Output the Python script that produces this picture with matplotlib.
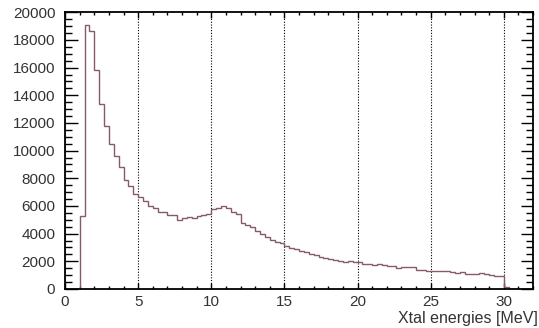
import numpy as np
import matplotlib
matplotlib.use("Agg")
import matplotlib.pyplot as plt
from matplotlib.ticker import MultipleLocator

# histogram: bins of 1/3 MeV from 0 to 32 MeV, contents
bin_lo = 0.0
bin_hi = 32.0
n_bins = 96
first_bin = 3  # first filled bin starts at 1.0 MeV
counts = [
    5300, 19100, 18650, 15800, 13350, 11800, 10450, 9600, 8800, 7900,
    7450, 6850, 6620, 6380, 6020, 5830, 5580, 5540, 5340, 5340,
    5000, 5100, 5220, 5150, 5290, 5340, 5400, 5780, 5870, 6020,
    5840, 5590, 5390, 4800, 4650, 4450, 4210, 3950, 3780, 3560,
    3400, 3300, 3080, 2960, 2870, 2760, 2640, 2530, 2450, 2330,
    2215, 2140, 2070, 2050, 1980, 2045, 1960, 1925, 1805, 1790,
    1730, 1805, 1740, 1650, 1630, 1515, 1565, 1610, 1600, 1400,
    1390, 1330, 1280, 1320, 1320, 1310, 1200, 1160, 1200, 1080,
    1080, 1080, 1130, 1080, 1010, 960, 960, 170,
]
xlabel = "Xtal energies [MeV]"

contents = np.zeros(n_bins)
contents[first_bin:first_bin + len(counts)] = counts
edges = np.linspace(bin_lo, bin_hi, n_bins + 1)

plt.rcParams["font.family"] = ["Liberation Sans", "DejaVu Sans"]

fig = plt.figure(figsize=(5.39, 3.28), dpi=100)
ax = fig.add_axes([65 / 539, 1 - 289 / 328, 468 / 539, (289 - 12.3) / 328])

ax.stairs(contents, edges, color="#875a6a", lw=1.0, baseline=0)

ax.set_xlim(bin_lo, bin_hi)
ax.set_ylim(0, 20000)

ax.xaxis.set_major_locator(MultipleLocator(5))
ax.xaxis.set_minor_locator(MultipleLocator(1))
ax.yaxis.set_major_locator(MultipleLocator(2000))
ax.yaxis.set_minor_locator(MultipleLocator(500))

ax.xaxis.grid(True, which="major", linestyle=(0, (1, 1.5)), color="black", lw=0.8)
ax.set_axisbelow(True)

ax.tick_params(axis="both", which="both", direction="in", top=True, right=True,
               labelsize=11, labelcolor="#333333", width=1.0)
ax.tick_params(axis="y", which="major", length=9, pad=7)
ax.tick_params(axis="y", which="minor", length=5)
ax.tick_params(axis="x", which="major", length=4.5, pad=4)
ax.tick_params(axis="x", which="minor", length=2.2)

for sp in ax.spines.values():
    sp.set_linewidth(1.3)

fig.text(538 / 539, 1 - 318 / 328, xlabel, ha="right", va="center",
         fontsize=11.5, color="#333333")

fig.savefig("out.png", dpi=100)
